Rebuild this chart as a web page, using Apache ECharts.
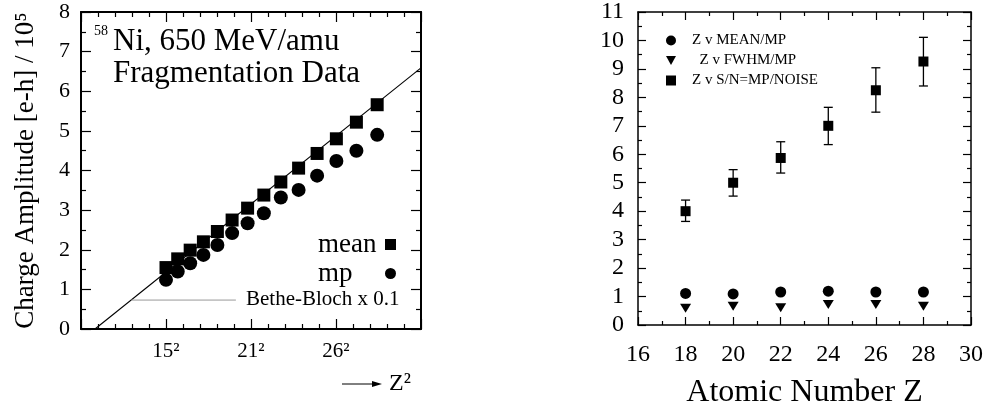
<!DOCTYPE html>
<html>
<head>
<meta charset="utf-8">
<script src="https://cdn.jsdelivr.net/npm/echarts@6/dist/echarts.min.js"></script>
<style>
  html, body { margin: 0; padding: 0; background: #fff; }
  #chart { width: 986px; height: 414px; }
</style>
</head>
<body>
<div id="chart"></div>
<script>
// left panel: charge amplitude vs Z^2 (58Ni fragments)
const zLeft = [15, 16, 17, 18, 19, 20, 21, 22, 23, 24, 25, 26, 27, 28];
const meanAmp = [1.55, 1.77, 1.99, 2.2, 2.46, 2.75, 3.05, 3.38, 3.71, 4.06, 4.43, 4.8, 5.22, 5.66];
const mpAmp = [1.24, 1.45, 1.66, 1.87, 2.12, 2.42, 2.67, 2.92, 3.32, 3.51, 3.87, 4.24, 4.5, 4.9];
const betheLine = [[37, 0], [900, 6.59]];
const betheLeader = [[133, 0.73], [410, 0.73]];
const z2Ticks = [225, 450, 675];
const z2TickLabels = ['15²', '21²', '26²'];

// right panel: ratios vs atomic number
const zRight = [18, 20, 22, 24, 26, 28];
const meanOverMp = [1.11, 1.09, 1.16, 1.19, 1.16, 1.16];
const fwhmOverMp = [0.59, 0.66, 0.61, 0.72, 0.72, 0.66];
const snr = [4.0, 5.0, 5.87, 7.0, 8.25, 9.26];
const snrLow = [3.64, 4.53, 5.34, 6.34, 7.48, 8.40];
const snrHigh = [4.39, 5.46, 6.44, 7.65, 9.04, 10.11];

const FONT = 'Liberation Serif, DejaVu Serif, serif';

const chart = echarts.init(document.getElementById('chart'));

function frameAxis(gridIndex, pos, min, max, interval, minorSplit, tickLen, minorLen, lineWidth, labelOpt) {
    return {
        type: 'value',
        gridIndex: gridIndex,
        position: pos,
        min: min,
        max: max,
        interval: interval,
        axisLine: { show: true, onZero: false, lineStyle: { color: '#000', width: lineWidth } },
        axisTick: { show: true, inside: true, length: tickLen, lineStyle: { color: '#000', width: 1.2 } },
        minorTick: { show: true, splitNumber: minorSplit, length: minorLen, lineStyle: { color: '#000', width: 1.2 } },
        splitLine: { show: false },
        minorSplitLine: { show: false },
        axisLabel: labelOpt || { show: false }
    };
}

function renderErrorBar(params, api) {
    const x = api.value(0);
    const lo = api.coord([x, api.value(1)]);
    const hi = api.coord([x, api.value(2)]);
    const cap = 4.5;
    const style = { stroke: '#000', lineWidth: 1.3 };
    return {
        type: 'group',
        children: [
            { type: 'line', shape: { x1: lo[0], y1: lo[1], x2: hi[0], y2: hi[1] }, style: style },
            { type: 'line', shape: { x1: hi[0] - cap, y1: hi[1], x2: hi[0] + cap, y2: hi[1] }, style: style },
            { type: 'line', shape: { x1: lo[0] - cap, y1: lo[1], x2: lo[0] + cap, y2: lo[1] }, style: style }
        ]
    };
}

const leftXLabel = {
    show: true,
    margin: 12,
    fontFamily: FONT,
    fontSize: 21,
    color: '#000',
    formatter: (v) => {
        const i = z2Ticks.indexOf(v);
        return i >= 0 ? z2TickLabels[i] : '';
    }
};
const leftYLabel = { show: true, margin: 11, fontFamily: FONT, fontSize: 22, color: '#000' };
const rightXLabel = { show: true, margin: 18, fontFamily: FONT, fontSize: 24, color: '#000' };
const rightYLabel = { show: true, margin: 14, fontFamily: FONT, fontSize: 24, color: '#000' };

const yLeft = frameAxis(0, 'left', 0, 8, 1, 2, 10, 5, 2, leftYLabel);
yLeft.name = 'Charge Amplitude [e-h] / 10⁵';
yLeft.nameLocation = 'middle';
yLeft.nameRotate = 90;
yLeft.nameGap = 42;
yLeft.nameTextStyle = { fontFamily: FONT, fontSize: 27, color: '#000' };

const xRight = frameAxis(1, 'bottom', 16, 30, 2, 2, 8, 4, 1.5, rightXLabel);
xRight.name = 'Atomic Number Z';
xRight.nameLocation = 'middle';
xRight.nameGap = 52;
xRight.nameTextStyle = { fontFamily: FONT, fontSize: 32, color: '#000' };

const options = {
    animation: false,
    backgroundColor: '#fff',
    grid: [
        { left: 81, top: 12, width: 340, height: 317 },
        { left: 638, top: 12, width: 333, height: 317 }
    ],
    xAxis: [
        frameAxis(0, 'bottom', 0, 900, 225, 5, 10, 5, 2, leftXLabel),
        frameAxis(0, 'top', 0, 900, 225, 5, 10, 5, 2),
        xRight,
        frameAxis(1, 'top', 16, 30, 2, 2, 8, 4, 1.5)
    ],
    yAxis: [
        yLeft,
        frameAxis(0, 'right', 0, 8, 1, 2, 10, 5, 2),
        frameAxis(1, 'left', 0, 11, 1, 2, 8, 4, 1.5, rightYLabel),
        frameAxis(1, 'right', 0, 11, 1, 2, 8, 4, 1.5)
    ],
    legend: [
        {
            data: [{ name: 'mean', icon: 'rect' }, { name: 'mp', icon: 'circle' }],
            orient: 'vertical',
            align: 'right',
            right: 585,
            top: 226,
            itemWidth: 11,
            itemHeight: 11,
            itemGap: 2,
            selectedMode: false,
            itemStyle: { color: '#000' },
            formatter: (name) => '{t|' + name + '}',
            textStyle: {
                fontFamily: FONT, fontSize: 27, color: '#000',
                rich: { t: { width: 62, align: 'left', fontFamily: FONT, fontSize: 27, color: '#000' } }
            }
        },
        {
            data: [
                { name: 'Z v MEAN/MP', icon: 'circle' },
                { name: '  Z v FWHM/MP', icon: 'path://M0,0L10,0L5,9Z' },
                { name: 'Z v S/N=MP/NOISE', icon: 'rect' }
            ],
            orient: 'vertical',
            left: 661,
            top: 28,
            itemWidth: 10,
            itemHeight: 10,
            itemGap: 5,
            selectedMode: false,
            itemStyle: { color: '#000' },
            textStyle: { fontFamily: FONT, fontSize: 15, color: '#000', padding: [0, 0, 0, 11] }
        }
    ],
    graphic: [
        { type: 'text', left: 94, top: 24, style: { text: '58', font: '14px ' + FONT, fill: '#000' } },
        { type: 'text', left: 113, top: 26, style: { text: 'Ni, 650 MeV/amu', font: '31px ' + FONT, fill: '#000' } },
        { type: 'text', left: 113, top: 58, style: { text: 'Fragmentation Data', font: '31px ' + FONT, fill: '#000' } },
        { type: 'text', left: 246, top: 289, style: { text: 'Bethe-Bloch x 0.1', font: '21px ' + FONT, fill: '#000' } },
        { type: 'line', shape: { x1: 342, y1: 384, x2: 378, y2: 384 }, style: { stroke: '#000', lineWidth: 1 } },
        { type: 'polygon', shape: { points: [[382, 384], [372, 381], [372, 387]] }, style: { fill: '#000' } },
        { type: 'text', left: 389, top: 372, style: { text: 'Z²', font: '24px ' + FONT, fill: '#000' } }
    ],
    series: [
        {
            name: 'Bethe-Bloch',
            type: 'line',
            xAxisIndex: 0,
            yAxisIndex: 0,
            data: betheLine,
            symbol: 'none',
            z: 1,
            lineStyle: { color: '#000', width: 1.1 }
        },
        {
            name: 'leader',
            type: 'line',
            xAxisIndex: 0,
            yAxisIndex: 0,
            data: betheLeader,
            symbol: 'none',
            z: 1,
            lineStyle: { color: '#999', width: 1 }
        },
        {
            name: 'mean',
            type: 'scatter',
            xAxisIndex: 0,
            yAxisIndex: 0,
            symbol: 'rect',
            symbolSize: 13,
            itemStyle: { color: '#000', opacity: 1 },
            data: zLeft.map((z, i) => [z * z, meanAmp[i]]),
            z: 3
        },
        {
            name: 'mp',
            type: 'scatter',
            xAxisIndex: 0,
            yAxisIndex: 0,
            symbol: 'circle',
            symbolSize: 14,
            itemStyle: { color: '#000', opacity: 1 },
            data: zLeft.map((z, i) => [z * z, mpAmp[i]]),
            z: 3
        },
        {
            name: 'snr-err',
            type: 'custom',
            xAxisIndex: 2,
            yAxisIndex: 2,
            renderItem: renderErrorBar,
            encode: { x: 0, y: [1, 2] },
            data: zRight.map((z, i) => [z, snrLow[i], snrHigh[i]]),
            z: 2
        },
        {
            name: 'Z v MEAN/MP',
            type: 'scatter',
            xAxisIndex: 2,
            yAxisIndex: 2,
            symbol: 'circle',
            symbolSize: 11,
            itemStyle: { color: '#000', opacity: 1 },
            data: zRight.map((z, i) => [z, meanOverMp[i]]),
            z: 3
        },
        {
            name: '  Z v FWHM/MP',
            type: 'scatter',
            xAxisIndex: 2,
            yAxisIndex: 2,
            symbol: 'triangle',
            symbolRotate: 180,
            symbolSize: [11, 9],
            itemStyle: { color: '#000', opacity: 1 },
            data: zRight.map((z, i) => [z, fwhmOverMp[i]]),
            z: 3
        },
        {
            name: 'Z v S/N=MP/NOISE',
            type: 'scatter',
            xAxisIndex: 2,
            yAxisIndex: 2,
            symbol: 'rect',
            symbolSize: 10,
            itemStyle: { color: '#000', opacity: 1 },
            data: zRight.map((z, i) => [z, snr[i]]),
            z: 3
        }
    ]
};

chart.setOption(options);
</script>
</body>
</html>
